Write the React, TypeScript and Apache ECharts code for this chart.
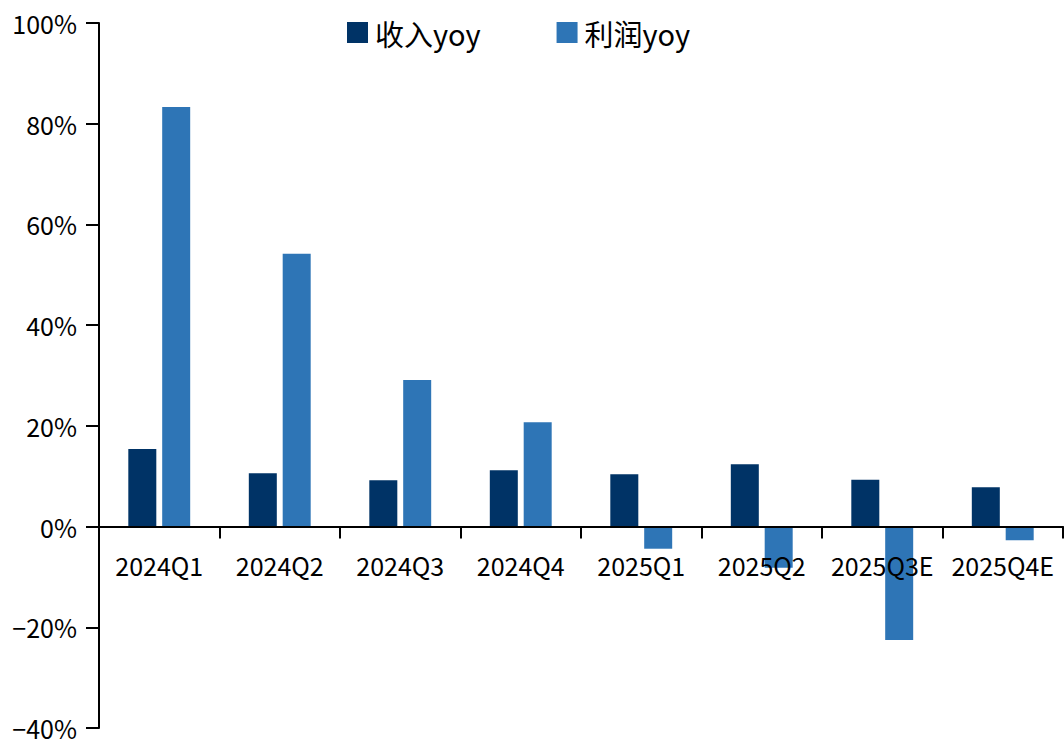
import React, { useEffect, useRef } from "react";
import * as echarts from "echarts";

const categories = ["2024Q1", "2024Q2", "2024Q3", "2024Q4", "2025Q1", "2025Q2", "2025Q3E", "2025Q4E"];
const revenueYoy = [15.4, 10.6, 9.2, 11.2, 10.4, 12.4, 9.3, 7.8];
const profitYoy = [83.3, 54.2, 29.1, 20.7, -4.4, -8.2, -22.5, -2.7];
const seriesNames = ["收入yoy", "利润yoy"];
const FONT = "'Noto Sans CJK SC', 'Noto Sans', sans-serif";

const Y_MIN = -40;
const Y_MAX = 100;
const GRID_TOP = 23;
const GRID_BOTTOM = 11;
const H = 739;

export default function App() {
  const ref = useRef<HTMLDivElement>(null);
  useEffect(() => {
    if (!ref.current) return;
    const chart = echarts.init(ref.current, undefined, { renderer: "svg" });
    const plotH = H - GRID_TOP - GRID_BOTTOM;
    const zeroOffset = -(plotH * (0 - Y_MIN)) / (Y_MAX - Y_MIN);
    chart.setOption({
      animation: false,
      textStyle: { fontFamily: FONT },
      legend: {
        top: 13,
        left: 342,
        itemWidth: 21,
        itemHeight: 21,
        itemGap: 76,
        icon: "rect",
        textStyle: { fontSize: 29, color: "#000", fontFamily: FONT, padding: [0, 0, 0, 2] },
        data: seriesNames,
      },
      grid: { left: 99, right: 1, top: GRID_TOP, bottom: GRID_BOTTOM, containLabel: false, outerBoundsMode: "none" },
      xAxis: {
        type: "category",
        data: categories,
        z: 5,
        offset: zeroOffset,
        axisLine: { onZero: false, lineStyle: { color: "#000", width: 2 } },
        axisTick: { show: true, length: 12, lineStyle: { color: "#000", width: 2 } },
        axisLabel: { color: "#000", fontSize: 25, margin: 26, fontFamily: FONT, interval: 0 },
      },
      yAxis: {
        type: "value",
        min: Y_MIN,
        max: Y_MAX,
        interval: 20,
        splitLine: { show: false },
        axisLine: { show: true, lineStyle: { color: "#000", width: 2 } },
        axisTick: { show: true, length: 13, lineStyle: { color: "#000", width: 2 } },
        axisLabel: {
          color: "#000",
          fontSize: 25,
          margin: 22,
          fontFamily: FONT,
          formatter: (v: number) => (v < 0 ? "\u2212" + Math.abs(v) : String(v)) + "%",
        },
      },
      series: [
        {
          name: seriesNames[0],
          type: "bar",
          data: revenueYoy,
          barWidth: 28,
          barGap: "21%",
          itemStyle: { color: "#003366" },
        },
        {
          name: seriesNames[1],
          type: "bar",
          data: profitYoy,
          barWidth: 28,
          barGap: "21%",
          itemStyle: { color: "#2E75B6" },
        },
      ],
    });
    return () => chart.dispose();
  }, []);
  return <div ref={ref} style={{ width: 1064, height: 739, position: "absolute", left: 0, top: 0, background: "#fff" }} />;
}
